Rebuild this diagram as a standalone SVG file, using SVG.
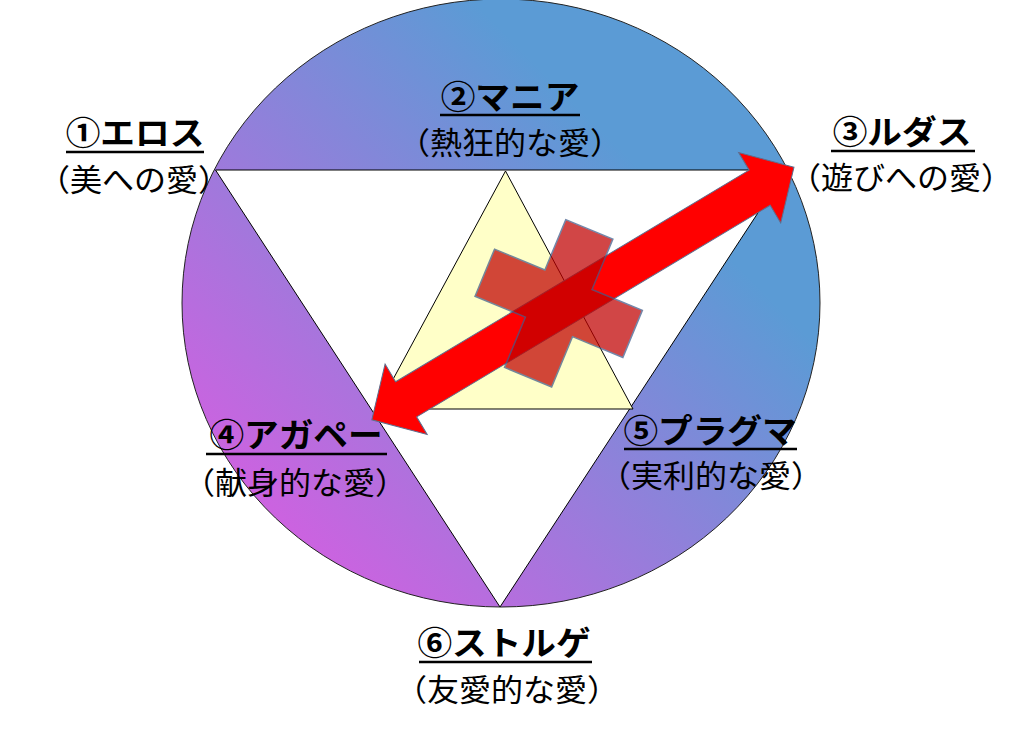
<svg xmlns="http://www.w3.org/2000/svg" width="1012" height="730" viewBox="0 0 1012 730">
<defs>
<linearGradient id="grad" gradientUnits="userSpaceOnUse" x1="182" y1="607" x2="805" y2="-16">
<stop offset="0.1" stop-color="#D55EE1"/>
<stop offset="0.72" stop-color="#5B9BD5"/>
</linearGradient>
<style>
.t{font-family:"Noto Sans CJK JP","Noto Sans",sans-serif;font-size:33px;font-weight:bold;text-anchor:middle;fill:#000}
.s{font-family:"Noto Sans CJK JP","Noto Sans",sans-serif;font-size:30.5px;font-weight:normal;text-anchor:middle;fill:#000}
.u{stroke:#000;stroke-width:2.5}
.edge{stroke:#000;stroke-width:1}
</style>
</defs>
<rect width="1012" height="730" fill="#fff"/>
<g id="ring">
<ellipse cx="501" cy="303" rx="319" ry="304" fill="url(#grad)" stroke="#222" stroke-width="1"/>
<polygon points="215.5,170 786,170 500,607" fill="#fff" class="edge"/>
</g>
<g id="core">
<polygon points="505.5,171 377,409 633,409" fill="#FFFFC8" class="edge"/>
</g>
<g id="connectors">
<polygon transform="translate(582.9,293.5) rotate(-30.9)" points="246,0 206,-41 206,-20.5 -206,-20.5 -206,-41 -246,0 -206,41 -206,20.5 206,20.5 206,41" fill="#FF0000" stroke="#5E6E8E" stroke-width="1"/>
</g>
<g id="cross" opacity="0.72">
<polygon transform="translate(558.7,303.3) rotate(22.5)" points="-25.5,-80 25.5,-80 25.5,-25.5 80,-25.5 80,25.5 25.5,25.5 25.5,80 -25.5,80 -25.5,25.5 -80,25.5 -80,-25.5 -25.5,-25.5" fill="#C00000" stroke="#3E5A8A" stroke-width="1.5"/>
</g>
<g id="n1">
<text class="t" transform="translate(135,145) scale(1.05,1)">①エロス</text>
<line class="u" x1="66" y1="152" x2="204" y2="152"/>
<text class="s" transform="translate(134,191) scale(1.05,1)">（美への愛）</text>
</g>
<g id="n2">
<text class="t" transform="translate(510,109) scale(1.05,1)">②マニア</text>
<line class="u" x1="440" y1="115" x2="580" y2="115"/>
<text class="s" transform="translate(510,154) scale(1.05,1)">（熱狂的な愛）</text>
</g>
<g id="n3">
<text class="t" transform="translate(902,144) scale(1.05,1)">③ルダス</text>
<line class="u" x1="831" y1="151" x2="975" y2="151"/>
<text class="s" transform="translate(901,189) scale(1.05,1)">（遊びへの愛）</text>
</g>
<g id="n4">
<text class="t" transform="translate(296,447) scale(1.05,1)">④アガペー</text>
<line class="u" x1="206" y1="454" x2="387" y2="454"/>
<text class="s" transform="translate(295,494) scale(1.05,1)">（献身的な愛）</text>
</g>
<g id="n5">
<text class="t" transform="translate(710,443) scale(1.05,1)">⑤プラグマ</text>
<line class="u" x1="624" y1="449" x2="797" y2="449"/>
<text class="s" transform="translate(711,487) scale(1.05,1)">（実利的な愛）</text>
</g>
<g id="n6">
<text class="t" transform="translate(504,655) scale(1.05,1)">⑥ストルゲ</text>
<line class="u" x1="419" y1="662" x2="592" y2="662"/>
<text class="s" transform="translate(507,701) scale(1.05,1)">（友愛的な愛）</text>
</g>
</svg>
